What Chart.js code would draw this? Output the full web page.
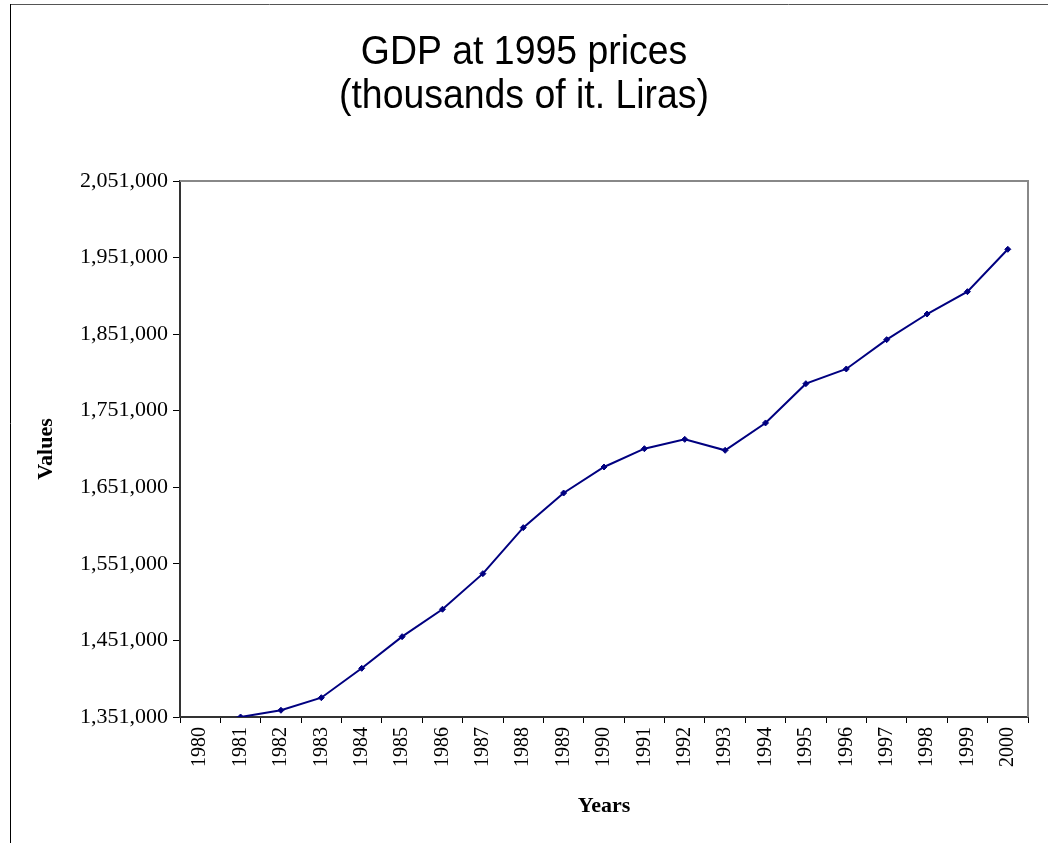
<!DOCTYPE html>
<html>
<head>
<meta charset="utf-8">
<title>GDP at 1995 prices</title>
<script src="https://cdn.jsdelivr.net/npm/chart.js@4.4.1/dist/chart.umd.min.js"></script>
<style>
  html, body { margin: 0; padding: 0; background: #fff; }
  #wrap { position: relative; width: 1048px; height: 843px; }
</style>
</head>
<body>
<div id="wrap"><canvas id="gdpChart" width="1048" height="843"></canvas></div>
<script>
const years = ["1980", "1981", "1982", "1983", "1984", "1985", "1986", "1987", "1988", "1989", "1990",
	"1991", "1992", "1993", "1994", "1995", "1996", "1997", "1998", "1999", "2000"];
const gdp = [1342000, 1351000, 1359800, 1376200, 1414600, 1455900, 1491700, 1538200, 1598300, 1643500, 1677500,
	1701400, 1713600, 1699300, 1735000, 1786300, 1805500, 1843800, 1877300, 1906500, 1961800];
const titleLines = ["GDP at 1995 prices", "(thousands of it. Liras)"];
const yMin = 1351000;
const yMax = 2051000;
const yStep = 100000;

const serif = "'Liberation Serif', 'Times New Roman', serif";

// frame, plot border and the two-line title
const frame = {
	id: "frame",
	beforeDraw(chart) {
		const c = chart.ctx;
		c.save();
		c.fillStyle = "#fff";
		c.fillRect(0, 0, chart.width, chart.height);
		c.lineWidth = 1;
		c.strokeStyle = "#555";
		c.beginPath();
		c.moveTo(10, 4.5);
		c.lineTo(chart.width, 4.5);
		c.stroke();
		c.strokeStyle = "#000";
		c.beginPath();
		c.moveTo(10.5, 4);
		c.lineTo(10.5, chart.height);
		c.stroke();
		c.restore();
	},
	afterDatasetsDraw(chart) {
		const a = chart.chartArea;
		const c = chart.ctx;
		c.save();
		c.strokeStyle = "#888";
		c.lineWidth = 2;
		c.beginPath();
		c.moveTo(a.left, a.top);
		c.lineTo(a.right, a.top);
		c.lineTo(a.right, a.bottom);
		c.stroke();

		c.fillStyle = "#000";
		c.font = "40px 'Liberation Sans', Arial, sans-serif";
		c.textAlign = "center";
		c.textBaseline = "alphabetic";
		const base = [64, 108];
		titleLines.forEach((t, i) => {
			c.save();
			c.translate(524, base[i]);
			c.scale(0.935, 1);
			c.fillText(t, 0, 0);
			c.restore();
		});
		c.restore();
	},
};

const ctx = document.getElementById("gdpChart").getContext("2d");

new Chart(ctx, {
	type: "line",
	data: {
		labels: years,
		datasets: [
			{
				label: "GDP",
				data: gdp,
				borderColor: "#000080",
				backgroundColor: "#000080",
				borderWidth: 2,
				pointStyle: "rectRot",
				pointRadius: 3,
				pointBorderWidth: 1,
				tension: 0,
			},
		],
	},
	options: {
		responsive: false,
		animation: false,
		layout: { padding: { top: 181, right: 20, left: 0, bottom: 0 } },
		plugins: {
			legend: { display: false },
			tooltip: { enabled: false },
		},
		scales: {
			x: {
				offset: true,
				grid: {
					offset: true,
					drawOnChartArea: false,
					drawTicks: true,
					tickLength: 6,
					color: "#000",
				},
				border: { color: "#333", width: 2 },
				ticks: {
					minRotation: 90,
					maxRotation: 90,
					autoSkip: false,
					padding: 4,
					color: "#000",
					font: { family: serif, size: 20 },
				},
				title: {
					display: true,
					text: "Years",
					color: "#000",
					font: { family: serif, size: 22, weight: "bold" },
					padding: { top: 0, bottom: 23 },
				},
				afterFit(scale) {
					scale.height = 843 - 717;
				},
			},
			y: {
				min: yMin,
				max: yMax,
				grid: {
					drawOnChartArea: false,
					drawTicks: true,
					tickLength: 7,
					color: "#000",
				},
				border: { color: "#333", width: 2 },
				ticks: {
					stepSize: yStep,
					padding: 5,
					color: "#000",
					font: { family: serif, size: 22 },
					callback: (v) => v.toLocaleString("en-US"),
				},
				title: {
					display: true,
					text: "Values",
					color: "#000",
					font: { family: serif, size: 22, weight: "bold" },
					padding: { top: 33, bottom: 0 },
				},
				afterFit(scale) {
					scale.width = 180;
				},
			},
		},
	},
	plugins: [frame],
});
</script>
</body>
</html>
